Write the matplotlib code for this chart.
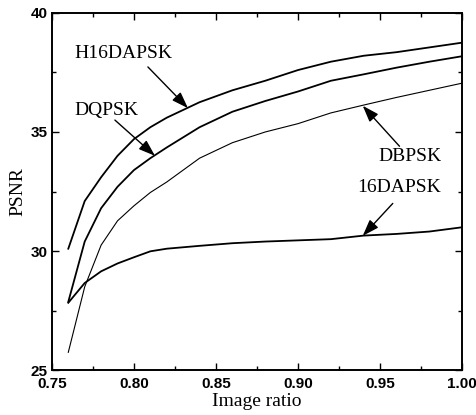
import numpy as np
import matplotlib.pyplot as plt
from matplotlib.ticker import MultipleLocator

# image ratio samples
ratio = [0.76, 0.77, 0.78, 0.79, 0.80, 0.81, 0.82, 0.84, 0.86, 0.88,
         0.90, 0.92, 0.94, 0.96, 0.98, 1.00]

# PSNR for each modulation scheme
psnr_h16dapsk = [30.1, 32.1, 33.1, 34.0, 34.7, 35.2, 35.6, 36.25, 36.75, 37.15,
                 37.6, 37.95, 38.2, 38.35, 38.55, 38.75]
psnr_dqpsk = [27.87, 30.4, 31.8, 32.7, 33.4, 33.9, 34.35, 35.2, 35.85, 36.3,
              36.7, 37.15, 37.42, 37.7, 37.95, 38.18]
psnr_dbpsk = [25.75, 28.5, 30.25, 31.27, 31.9, 32.46, 32.9, 33.9, 34.55, 35.0,
              35.35, 35.8, 36.13, 36.45, 36.75, 37.05]
psnr_16dapsk = [27.83, 28.66, 29.15, 29.48, 29.74, 29.99, 30.1, 30.22, 30.33, 30.4,
                30.45, 30.5, 30.65, 30.72, 30.82, 31.0]

serif = "Liberation Serif"
sans = "Liberation Sans"

fig = plt.figure(figsize=(4.76, 4.15), dpi=100)
ax = fig.add_axes([0.109, 0.108, 0.862, 0.861])

ax.plot(ratio, psnr_h16dapsk, color="black", linewidth=1.3)
ax.plot(ratio, psnr_dqpsk, color="black", linewidth=1.3)
ax.plot(ratio, psnr_dbpsk, color="black", linewidth=0.8)
ax.plot(ratio, psnr_16dapsk, color="black", linewidth=1.3)

ax.set_xlim(0.75, 1.0)
ax.set_ylim(25, 40)
ax.xaxis.set_major_locator(MultipleLocator(0.05))
ax.xaxis.set_minor_locator(MultipleLocator(0.025))
ax.yaxis.set_major_locator(MultipleLocator(5))
ax.yaxis.set_minor_locator(MultipleLocator(2.5))
ax.tick_params(which="both", direction="in", top=True, right=True, width=1.0)
ax.tick_params(which="major", length=5)
ax.tick_params(which="minor", length=3)
ax.tick_params(axis="x", which="major", pad=5)
ax.tick_params(axis="y", which="major", pad=3)
ax.set_xticklabels([f"{v:.2f}" for v in ax.get_xticks()])
for lbl in ax.get_xticklabels() + ax.get_yticklabels():
    lbl.set_fontfamily(sans)
    lbl.set_fontweight("bold")
    lbl.set_fontsize(11)
for s in ax.spines.values():
    s.set_linewidth(1.4)

ax.set_xlabel("Image ratio", fontfamily=serif, fontsize=14, labelpad=1)
ax.set_ylabel("PSNR", fontfamily=serif, fontsize=14, labelpad=3)

arrow = dict(arrowstyle="-|>,head_length=1.0,head_width=0.35", color="black",
             linewidth=1.0, shrinkA=0, shrinkB=0)
ax.annotate("H16DAPSK", xy=(0.8329, 36.0), xytext=(0.7635, 38.3),
            fontfamily=serif, fontsize=14, va="center", ha="left")
ax.annotate("", xy=(0.8329, 36.0), xytext=(0.8085, 37.73), arrowprops=arrow)
ax.annotate("DQPSK", xy=(0.8128, 34.0), xytext=(0.7635, 35.92),
            fontfamily=serif, fontsize=14, va="center", ha="left")
ax.annotate("", xy=(0.8128, 34.0), xytext=(0.7884, 35.5), arrowprops=arrow)
ax.annotate("DBPSK", xy=(0.9394, 36.1), xytext=(0.9872, 33.95),
            fontfamily=serif, fontsize=14, va="center", ha="right")
ax.annotate("", xy=(0.9394, 36.1), xytext=(0.9618, 34.4), arrowprops=arrow)
ax.annotate("16DAPSK", xy=(0.9394, 30.64), xytext=(0.9872, 32.68),
            fontfamily=serif, fontsize=14, va="center", ha="right")
ax.annotate("", xy=(0.9394, 30.64), xytext=(0.9577, 32.0), arrowprops=arrow)

fig.savefig("out.png", dpi=100)
